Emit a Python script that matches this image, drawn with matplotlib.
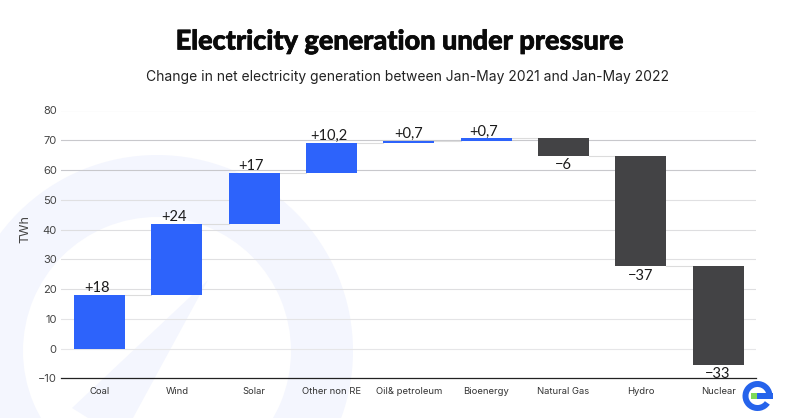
import numpy as np
import matplotlib
matplotlib.use("Agg")
import matplotlib.pyplot as plt
import matplotlib.patheffects as pe
from matplotlib.patches import Wedge, Polygon, Rectangle

categories = ["Coal", "Wind", "Solar", "Other non RE", "Oil& petroleum",
              "Bioenergy", "Natural Gas", "Hydro", "Nuclear"]
changes = [18, 24, 17, 10.2, 0.7, 0.7, -6, -37, -33]
labels = ["+18", "+24", "+17", "+10,2", "+0,7", "+0,7", "\u22126", "\u221237", "\u221233"]
y_ticks = [-10, 0, 10, 20, 30, 40, 50, 60, 70, 80]
grid_colors = ["#222222", "#e6e6e8", "#e4e4e6", "#dedee0", "#e0e0e2",
               "#dedee0", "#e0e0e2", "#c8c8cc", "#c8c8cc", "#d8d8da"]

W, H = 800, 418
BLUE = "#2d63fb"
DARK = "#434345"
LOGO = "#2563eb"

plt.rcParams["font.family"] = ["Inter", "DejaVu Sans"]
fig = plt.figure(figsize=(W / 100, H / 100), dpi=100)

# background layer works in pixels, y pointing down
bg = fig.add_axes([0, 0, 1, 1], zorder=0)
bg.set_xlim(0, W)
bg.set_ylim(H, 0)
bg.axis("off")
pale = "#f4f6fe"
bg.add_patch(Wedge((157, 351), 196, 0, 360, width=62, fc=pale, ec="none"))
bg.add_patch(Polygon([(208, 280), (72, 408), (88, 418), (133, 418)], fc=pale, ec="none"))

# logo in the corner
bg.add_patch(Wedge((757.5, 396), 15, 35, 360, width=6, fc=LOGO, ec="none"))
bg.add_patch(Rectangle((757, 392.5), 15.5, 6, fc=LOGO, ec="none"))
bg.add_patch(Rectangle((751, 392.5), 6, 6, fc="#7ed957", ec="none"))

ax = fig.add_axes([61 / W, 1 - 378.3 / H, 695 / W, 267.8 / H], zorder=1)
ax.patch.set_alpha(0)
ax.set_xlim(-0.5, 8.49)
ax.set_ylim(-10, 80)

ends = np.cumsum(changes)
starts = ends - np.array(changes)
x = np.arange(len(categories))
colors = [BLUE if c > 0 else DARK for c in changes]
ax.bar(x, changes, bottom=starts, width=0.66, color=colors, zorder=3)

# connectors between neighbouring bars
for i in range(len(x) - 1):
    ax.plot([x[i] + 0.33, x[i + 1] - 0.33], [ends[i], ends[i]], color="#dcdcdc", lw=0.8, zorder=2)

for i, lab in enumerate(labels):
    if changes[i] > 0:
        shift = -2 if i != 4 else 0
        ax.annotate(lab, (x[i], ends[i]), xytext=(shift, 0), textcoords="offset points",
                    ha="center", va="bottom", fontsize=10.5, color="#1a1a1a", family="Lato")
    else:
        ax.annotate(lab, (x[i], ends[i]), xytext=(0, -1.5), textcoords="offset points",
                    ha="center", va="top", fontsize=10.5, color="#1a1a1a", family="Lato")

ax.set_yticks(y_ticks)
ax.set_xticks(x)
ax.set_xticklabels(categories, fontsize=6.8, color="#333333")
ax.tick_params(axis="y", length=0, labelsize=8, labelcolor="#444444", pad=3)
ax.tick_params(axis="x", length=0, pad=6)
for t, c in zip(y_ticks, grid_colors):
    if t > -10:
        ax.axhline(t, color=c, lw=0.8, zorder=1)
for s in ["top", "right", "left"]:
    ax.spines[s].set_visible(False)
ax.spines["bottom"].set_color(grid_colors[0])
ax.spines["bottom"].set_linewidth(0.9)
ax.set_ylabel("TWh", fontsize=9, color="#444444")
ax.yaxis.set_label_coords(-30 / 695, 0.556)

title = fig.text(400 / W, 1 - 41.5 / H, "Electricity generation under pressure", ha="center", va="center",
                 fontsize=19.5, fontweight=900, family="Lato", color="#0a0a0a", zorder=5)
# the installed weight is a little light, thicken it with a thin outline
title.set_path_effects([pe.withStroke(linewidth=0.5, foreground="#0a0a0a")])
fig.text(407 / W, 1 - 77.5 / H, "Change in net electricity generation between Jan-May 2021 and Jan-May 2022",
         ha="center", va="center", fontsize=10, color="#222222", zorder=5)

fig.savefig("out.png", dpi=100)
